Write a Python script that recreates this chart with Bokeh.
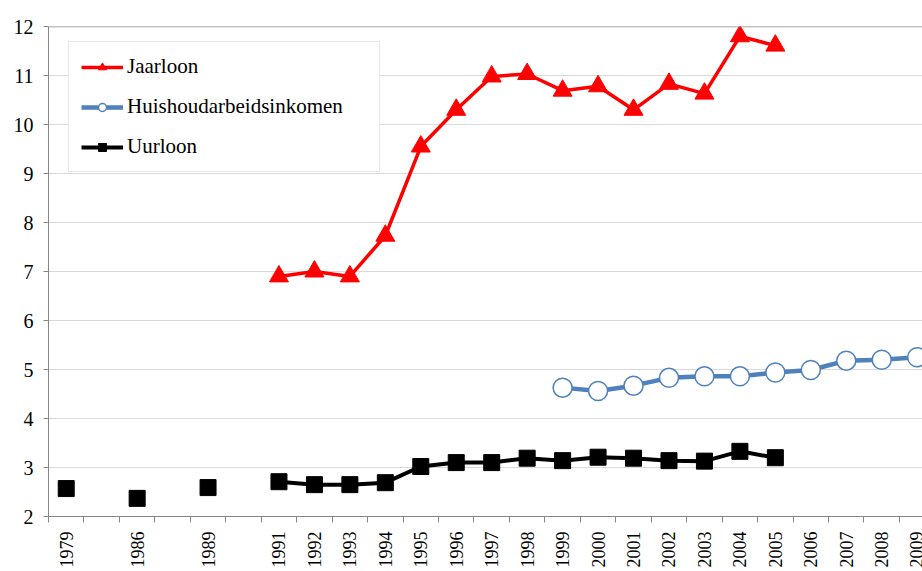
import math
from bokeh.plotting import figure
from bokeh.models import FixedTicker, Range1d, Span, Legend, LegendItem, ColumnDataSource
from bokeh.embed import file_html
from bokeh.resources import INLINE

nan = float("nan")

categories = ["1979", "", "1986", "", "1989", "", "1991", "1992", "1993", "1994",
              "1995", "1996", "1997", "1998", "1999", "2000", "2001", "2002",
              "2003", "2004", "2005", "2006", "2007", "2008", "2009"]

jaarloon = [nan, nan, nan, nan, nan, nan,
            6.9, 7.0, 6.9, 7.73, 9.55, 10.3, 10.98, 11.03, 10.69, 10.78,
            10.3, 10.83, 10.63, 11.8, 11.61,
            nan, nan, nan, nan]

huishoud = [nan] * 14 + [4.63, 4.56, 4.67, 4.83, 4.86, 4.86, 4.94, 4.99, 5.18, 5.2, 5.25]

uurloon = [2.57, nan, 2.37, nan, 2.59, nan,
           2.71, 2.65, 2.65, 2.69, 3.02, 3.1, 3.1, 3.19, 3.14, 3.21,
           3.19, 3.14, 3.13, 3.33, 3.2,
           nan, nan, nan, nan]

series_names = ["Jaarloon", "Huishoudarbeidsinkomen", "Uurloon"]
y_ticks = list(range(2, 13))

x = [i + 0.5 for i in range(len(categories))]
src = ColumnDataSource(dict(x=x, j=jaarloon, h=huishoud, u=uurloon))

FONT = "Liberation Serif"
AXIS_COLOR = "#868686"

p = figure(width=922, height=571, output_backend="svg", toolbar_location=None,
           x_range=Range1d(0, 24.65), y_range=Range1d(2, 12),
           min_border_left=48, min_border_right=0, min_border_top=26,
           min_border_bottom=55)
p.outline_line_color = None
p.background_fill_color = "white"
p.border_fill_color = "white"

# grid
p.xgrid.grid_line_color = None
p.ygrid.grid_line_color = "#d9d9d9"
p.ygrid.grid_line_width = 1
p.add_layout(Span(location=12, dimension="width", line_color=AXIS_COLOR, line_width=1.5))

# y axis
p.yaxis.ticker = FixedTicker(ticks=y_ticks)
p.yaxis.axis_line_color = AXIS_COLOR
p.yaxis.major_tick_line_color = AXIS_COLOR
p.yaxis.major_tick_out = 5
p.yaxis.major_tick_in = 0
p.yaxis.minor_tick_line_color = None
p.yaxis.major_label_text_font = FONT
p.yaxis.major_label_text_font_size = "20px"
p.yaxis.major_label_text_color = "black"
p.yaxis.major_label_standoff = 10

# x axis
label_ticks = [x[i] for i, c in enumerate(categories) if c]
p.xaxis.ticker = FixedTicker(ticks=label_ticks, minor_ticks=list(range(0, len(categories) + 1)))
p.xaxis.major_label_overrides = {x[i]: c for i, c in enumerate(categories) if c}
p.xaxis.axis_line_color = AXIS_COLOR
p.xaxis.major_tick_line_color = None
p.xaxis.major_tick_out = 0
p.xaxis.major_tick_in = 0
p.xaxis.minor_tick_line_color = AXIS_COLOR
p.xaxis.minor_tick_out = 6
p.xaxis.minor_tick_in = 0
p.xaxis.major_label_orientation = math.pi / 2
p.xaxis.major_label_text_font = FONT
p.xaxis.major_label_text_font_size = "18px"
p.xaxis.major_label_text_color = "black"
p.xaxis.major_label_standoff = 9

# series
RED = "#ff0000"
BLUE = "#4f81bd"
BLACK = "#000000"

lj = p.line("x", "j", source=src, line_color=RED, line_width=3.5)
sj = p.scatter("x", "j", source=src, marker="triangle", size=19,
               fill_color=RED, line_color=RED)

lh = p.line("x", "h", source=src, line_color=BLUE, line_width=4.5)
sh = p.scatter("x", "h", source=src, marker="circle", size=19,
               fill_color="white", line_color=BLUE, line_width=1.5)

lu = p.line("x", "u", source=src, line_color=BLACK, line_width=4)
su = p.scatter("x", "u", source=src, marker="square", size=16,
               fill_color=BLACK, line_color=BLACK)

legend = Legend(items=[
    LegendItem(label=series_names[0], renderers=[lj, sj]),
    LegendItem(label=series_names[1], renderers=[lh, sh]),
    LegendItem(label=series_names[2], renderers=[lu, su]),
], location=(20, 344))
legend.label_text_font = FONT
legend.label_text_font_size = "21px"
legend.label_text_color = "black"
legend.label_standoff = 4
legend.label_width = 240
legend.glyph_width = 42
legend.glyph_height = 20
legend.label_height = 20
legend.spacing = 15
legend.padding = 12
legend.border_line_color = "#d0d0d0"
legend.border_line_width = 1
legend.background_fill_color = "white"
legend.background_fill_alpha = 1.0
p.add_layout(legend, "center")

open("out.html", "w").write(file_html(p, INLINE))
